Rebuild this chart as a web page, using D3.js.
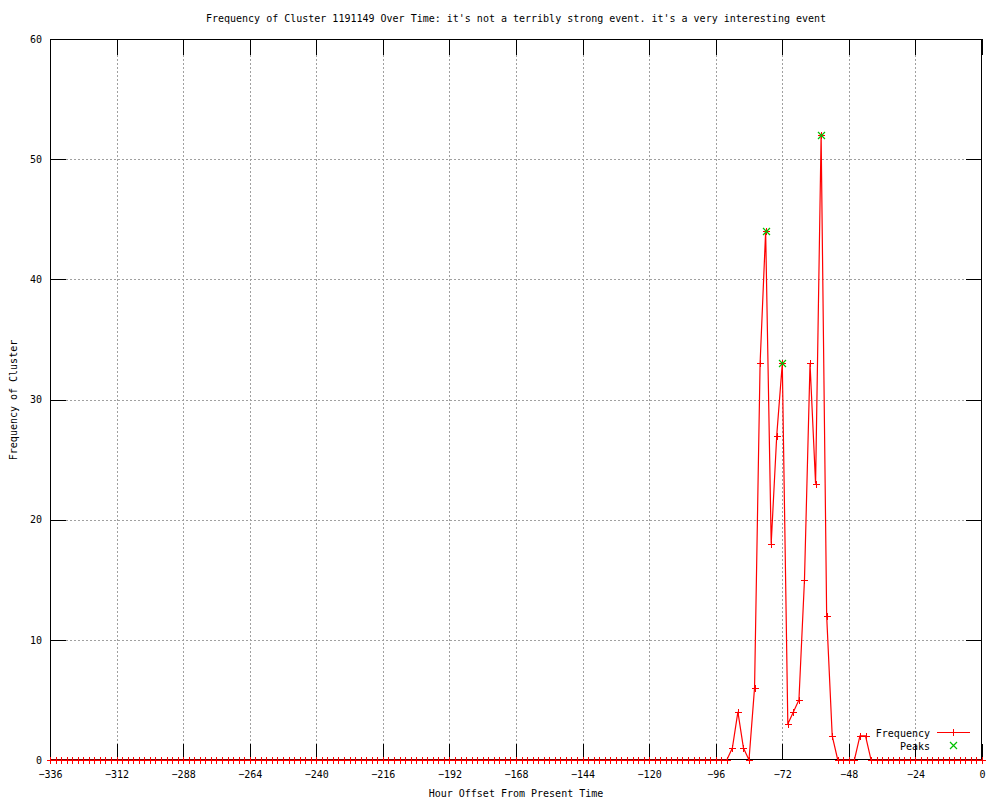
<!DOCTYPE html>
<html>
<head>
<meta charset="utf-8">
<script src="https://cdn.jsdelivr.net/npm/d3@7"></script>
<style>
  html, body { margin: 0; padding: 0; background: #fff; }
  svg text { font-family: "DejaVu Sans Mono", "Liberation Mono", monospace; font-size: 10px; fill: #000; }
</style>
</head>
<body>
<svg id="chart" width="1000" height="800"></svg>
<script>
// ---- data ----
const titleText = "Frequency of Cluster 1191149 Over Time: it's not a terribly strong event. it's a very interesting event";
const xLabelText = "Hour Offset From Present Time";
const yLabelText = "Frequency of Cluster";

// hours from -336 to 0, every 2 hours
const hours = d3.range(-336, 1, 2);
// frequency at each hour (rows of 24 hours = 12 values)
const frequency = [
  0,0,0,0,0,0,0,0,0,0,0,0,      // -336 .. -314
  0,0,0,0,0,0,0,0,0,0,0,0,      // -312 .. -290
  0,0,0,0,0,0,0,0,0,0,0,0,      // -288 .. -266
  0,0,0,0,0,0,0,0,0,0,0,0,      // -264 .. -242
  0,0,0,0,0,0,0,0,0,0,0,0,      // -240 .. -218
  0,0,0,0,0,0,0,0,0,0,0,0,      // -216 .. -194
  0,0,0,0,0,0,0,0,0,0,0,0,      // -192 .. -170
  0,0,0,0,0,0,0,0,0,0,0,0,      // -168 .. -146
  0,0,0,0,0,0,0,0,0,0,0,0,      // -144 .. -122
  0,0,0,0,0,0,0,0,0,0,0,0,      // -120 .. -98
  0,0,0,1,4,1,0,6,33,44,18,27,  // -96 .. -74
  33,3,4,5,15,33,23,52,12,2,0,0,// -72 .. -50
  0,0,2,2,0,0,0,0,0,0,0,0,      // -48 .. -26
  0,0,0,0,0,0,0,0,0,0,0,0,      // -24 .. -2
  0                             // 0
];
const peakHours = [-78, -72, -58];
const peakValues = [44, 33, 52];

const xTicks = [-336,-312,-288,-264,-240,-216,-192,-168,-144,-120,-96,-72,-48,-24,0];
const yTicks = [0,10,20,30,40,50,60];
const legendLabels = ["Frequency", "Peaks"];

// ---- layout ----
const L = 50, R = 982, T = 39, B = 760;
const svg = d3.select("#chart");
const x = d3.scaleLinear().domain([-336, 0]).range([L, R]);
const y = d3.scaleLinear().domain([0, 60]).range([B, T]);

const series = hours.map((h, i) => ({ h, v: frequency[i] }));
const peaks = peakHours.map((h, i) => ({ h, v: peakValues[i] }));

// grid
const grid = svg.append("g").attr("stroke", "#a0a0a0").attr("stroke-width", 1)
  .attr("stroke-dasharray", "2,2").attr("shape-rendering", "crispEdges");
grid.selectAll("line.gx").data(xTicks.filter(d => d > -336 && d < 0)).join("line")
  .attr("x1", d => Math.round(x(d)) + 0.5).attr("x2", d => Math.round(x(d)) + 0.5)
  .attr("y1", T).attr("y2", B);
grid.selectAll("line.gy").data(yTicks.filter(d => d > 0 && d < 60)).join("line")
  .attr("y1", d => Math.round(y(d)) + 0.5).attr("y2", d => Math.round(y(d)) + 0.5)
  .attr("x1", L).attr("x2", R);

// axes
function styleAxis(g) {
  g.select(".domain").remove();
  g.selectAll(".tick line").attr("stroke", "#000").attr("shape-rendering", "crispEdges");
  g.selectAll(".tick text").attr("font-family", null).attr("font-size", null);
}
const fmt = d => String(d).replace("-", "\u2212");
svg.append("g").attr("transform", `translate(0,${B})`)
  .call(d3.axisBottom(x).tickValues(xTicks).tickSize(-16).tickPadding(11).tickFormat(fmt))
  .call(styleAxis);
svg.append("g").attr("transform", `translate(0,${T})`)
  .call(d3.axisTop(x).tickValues(xTicks).tickSize(-16).tickFormat(""))
  .call(styleAxis);
svg.append("g").attr("transform", `translate(${L},0)`)
  .call(d3.axisLeft(y).tickValues(yTicks).tickSize(-16).tickPadding(8))
  .call(styleAxis);
svg.append("g").attr("transform", `translate(${R},0)`)
  .call(d3.axisRight(y).tickValues(yTicks).tickSize(-16).tickFormat(""))
  .call(styleAxis);

// border
svg.append("rect").attr("x", L + 0.5).attr("y", T + 0.5)
  .attr("width", R - L - 1).attr("height", B - T - 1)
  .attr("fill", "none").attr("stroke", "#000").attr("stroke-width", 1)
  .attr("shape-rendering", "crispEdges");

// frequency line
const line = d3.line().x(d => x(d.h)).y(d => y(d.v));
svg.append("path").datum(series).attr("d", line)
  .attr("fill", "none").attr("stroke", "#ff0000").attr("stroke-width", 1.2);

const plusPath = (cx, cy, s) => `M${cx - s},${cy}H${cx + s}M${cx},${cy - s}V${cy + s}`;
const crossPath = (cx, cy, s) => `M${cx - s},${cy - s}L${cx + s},${cy + s}M${cx - s},${cy + s}L${cx + s},${cy - s}`;

svg.append("g").selectAll("path").data(series).join("path")
  .attr("d", d => plusPath(Math.round(x(d.h)) + 0.5, Math.round(y(d.v)) + 0.5, 3.5))
  .attr("stroke", "#ff0000").attr("stroke-width", 1).attr("fill", "none")
  .attr("shape-rendering", "crispEdges");

svg.append("g").selectAll("path").data(peaks).join("path")
  .attr("d", d => crossPath(Math.round(x(d.h)) + 0.5, Math.round(y(d.v)) + 0.5, 3.5))
  .attr("stroke", "#00c000").attr("stroke-width", 1.2).attr("fill", "none");

// legend
const lg = svg.append("g");
lg.append("text").attr("x", 930).attr("y", 736.5).attr("text-anchor", "end").text(legendLabels[0]);
lg.append("line").attr("x1", 937).attr("x2", 970).attr("y1", 732.5).attr("y2", 732.5)
  .attr("stroke", "#ff0000").attr("stroke-width", 1.2);
lg.append("path").attr("d", plusPath(953.5, 732.5, 3.5)).attr("stroke", "#ff0000")
  .attr("stroke-width", 1).attr("shape-rendering", "crispEdges");
lg.append("text").attr("x", 930).attr("y", 749.5).attr("text-anchor", "end").text(legendLabels[1]);
lg.append("path").attr("d", crossPath(953.5, 745.5, 3.5)).attr("stroke", "#00c000")
  .attr("stroke-width", 1.2).attr("fill", "none");

// titles
svg.append("text").attr("x", 516).attr("y", 22).attr("text-anchor", "middle").text(titleText);
svg.append("text").attr("x", 516).attr("y", 797).attr("text-anchor", "middle").text(xLabelText);
svg.append("text").attr("transform", "translate(17,400) rotate(-90)").attr("text-anchor", "middle").text(yLabelText);
</script>
</body>
</html>
